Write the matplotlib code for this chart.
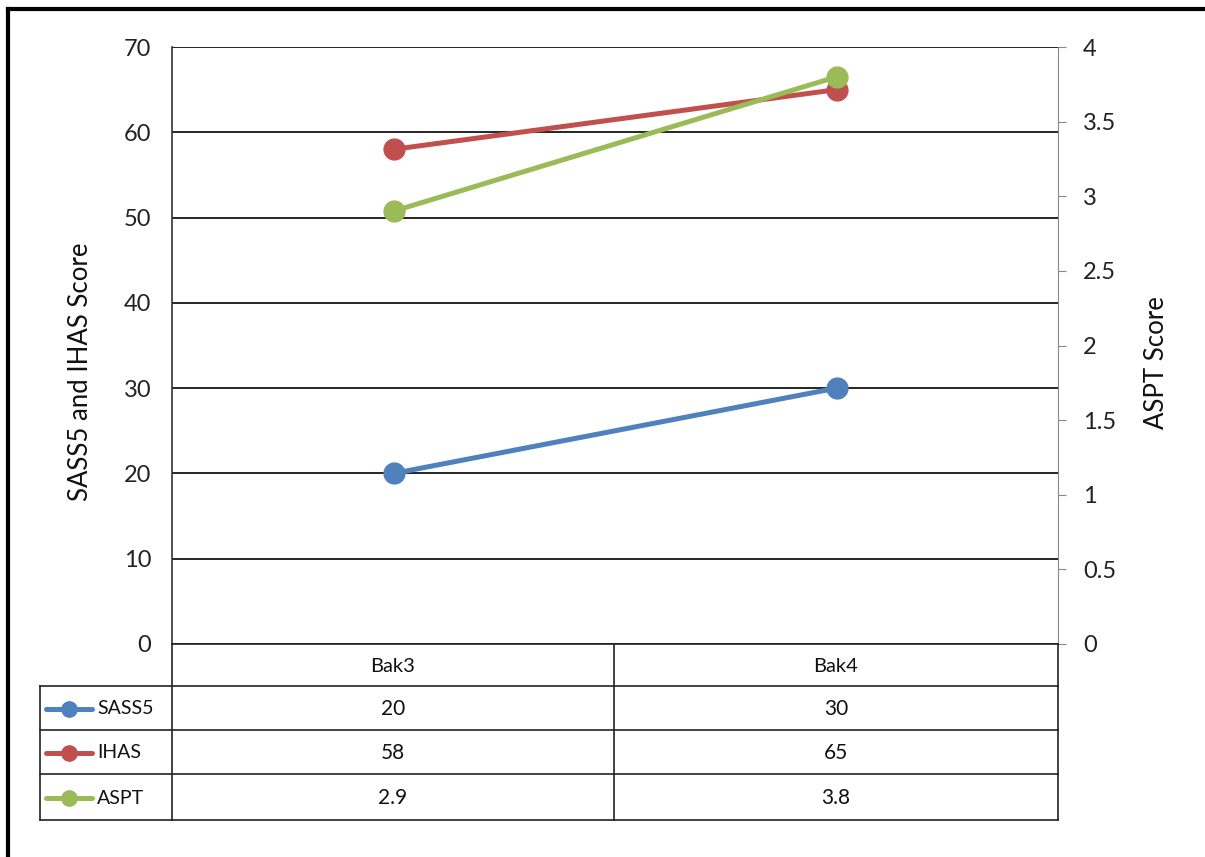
import matplotlib.pyplot as plt
from matplotlib.lines import Line2D

plt.rcParams['font.family'] = ['Lato', 'DejaVu Sans']

# data
categories = ['Bak3', 'Bak4']
sass5 = [20, 30]
ihas = [58, 65]
aspt = [2.9, 3.8]

blue = '#4F81BD'
red = '#C0504D'
green = '#9BBB59'

W, H = 1205, 857
fig = plt.figure(figsize=(W / 100, H / 100), dpi=100)


def fx(px):
    return px / W


def fy(py):
    return 1 - py / H


# plot area
ax = fig.add_axes([fx(172), fy(644), fx(1058) - fx(172), fy(47) - fy(644)])
ax2 = ax.twinx()

x = list(range(len(categories)))
ax.plot(x, sass5, color=blue, lw=3.6, marker='o', ms=15, zorder=3)
ax.plot(x, ihas, color=red, lw=3.6, marker='o', ms=15, zorder=3)
ax2.plot(x, aspt, color=green, lw=3.6, marker='o', ms=15, zorder=3)

ax.set_xlim(-0.5, 1.5)
ax.set_ylim(0, 70)
ax.set_yticks(range(0, 71, 10))
ax.set_xticks([])
ax.grid(axis='y', color='black', lw=1.2)
ax.set_axisbelow(True)
ax.tick_params(axis='y', length=0, pad=15, labelsize=17, colors='#222222')
for s in ['top', 'right', 'bottom']:
    ax.spines[s].set_visible(False)
ax.spines['left'].set_color('#333333')
ax.spines['left'].set_linewidth(1.2)

ax2.set_ylim(0, 4)
ax2.set_yticks([0, 0.5, 1, 1.5, 2, 2.5, 3, 3.5, 4])
ax2.set_yticklabels(['0', '0.5', '1', '1.5', '2', '2.5', '3', '3.5', '4'])
ax2.tick_params(axis='y', length=6, pad=12, labelsize=17, colors='#888888',
                labelcolor='#222222')
for s in ['top', 'left', 'bottom']:
    ax2.spines[s].set_visible(False)
ax2.spines['right'].set_color('#888888')

fig.text(fx(80), fy(372), 'SASS5 and IHAS Score', rotation=90,
         ha='center', va='center', fontsize=18.5, color='#111111')
fig.text(fx(1157), fy(363), 'ASPT Score', rotation=90,
         ha='center', va='center', fontsize=18.5, color='#111111')

# data table under the chart
tc = '#222222'


def hline(y, x0, x1):
    fig.add_artist(Line2D([fx(x0), fx(x1)], [fy(y), fy(y)], color=tc, lw=1.2))


def vline(x_, y0, y1):
    fig.add_artist(Line2D([fx(x_), fx(x_)], [fy(y0), fy(y1)], color=tc, lw=1.2))


hline(644, 172, 1058)
hline(686, 40, 1058)
hline(730, 40, 1058)
hline(774, 40, 1058)
hline(820, 40, 1058)
vline(40, 686, 820)
vline(172, 644, 820)
vline(614, 644, 820)
vline(1058, 644, 820)

col_x = [393, 836]
for cx, name in zip(col_x, categories):
    fig.text(fx(cx), fy(666), name, ha='center', va='center',
             fontsize=14.5, color='#111111')

rows = [('SASS5', sass5, blue, '{:g}'), ('IHAS', ihas, red, '{:g}'),
        ('ASPT', aspt, green, '{:.1f}')]
row_y = [709, 753, 798]
for (name, vals, col, fmt), ry in zip(rows, row_y):
    fig.add_artist(Line2D([fx(46), fx(92)], [fy(ry), fy(ry)], color=col,
                          lw=3.6, solid_capstyle='round'))
    fig.add_artist(Line2D([fx(69)], [fy(ry)], color=col, marker='o', ms=11))
    fig.text(fx(97), fy(ry), name, ha='left', va='center', fontsize=14,
             color='#111111')
    for cx, v in zip(col_x, vals):
        fig.text(fx(cx), fy(ry), fmt.format(v), ha='center', va='center',
                 fontsize=15, color='#111111')

# outer frame, top and left edges
fig.add_artist(Line2D([fx(8), 1], [fy(9), fy(9)], color='black', lw=3))
fig.add_artist(Line2D([fx(8), fx(8)], [fy(9), 0], color='black', lw=3))

fig.savefig('out.png', dpi=100)
